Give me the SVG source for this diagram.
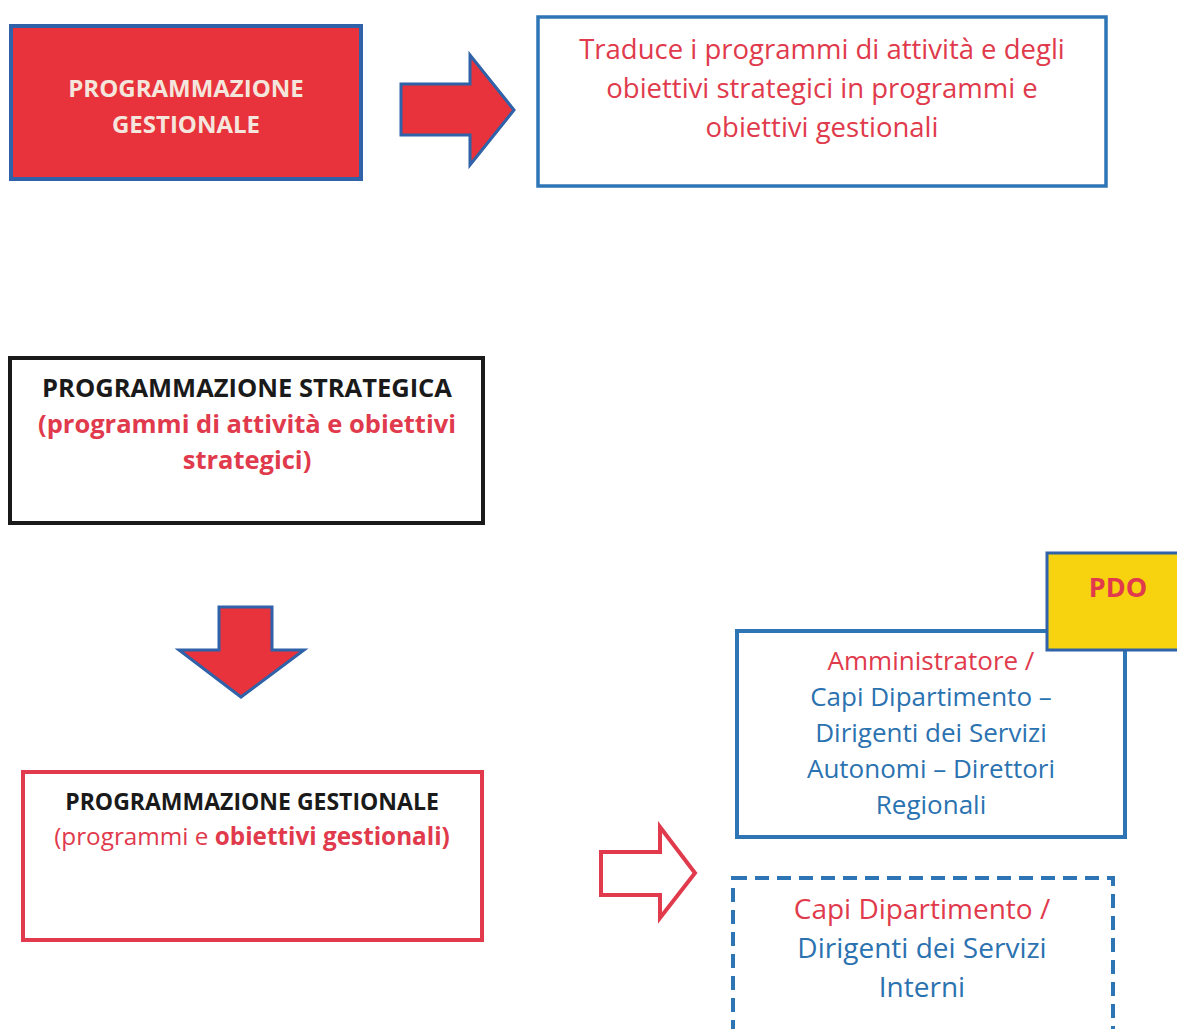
<svg xmlns="http://www.w3.org/2000/svg" width="1177" height="1029" viewBox="0 0 1177 1029">
<style>
.t{font-family:"Open Sans","Liberation Sans",sans-serif;text-anchor:middle}
.r{fill:#e03a4c}
.b{fill:#2b72b0}
.k{fill:#1a1a1a}
.bold{font-weight:bold}
.blk{fill:#e8323c;stroke:#2f62a8;stroke-width:3;stroke-linejoin:miter}
</style>
<rect width="1177" height="1029" fill="#ffffff"/>
<g id="n1">
<rect x="11" y="26" width="350" height="153" fill="#e8323c" stroke="#2f62a8" stroke-width="4"/>
<text class="t bold" x="186" y="97" font-size="24" fill="#f4e6dc">PROGRAMMAZIONE</text>
<text class="t bold" x="186" y="133" font-size="24" fill="#f4e6dc">GESTIONALE</text>
</g>
<g id="n2">
<rect x="538" y="17" width="568" height="169" fill="#ffffff" stroke="#2e75b6" stroke-width="3.5"/>
<text class="t r" x="822" y="59" font-size="27.5">Traduce i programmi di attività e degli</text>
<text class="t r" x="822" y="98" font-size="27.5">obiettivi strategici in programmi e</text>
<text class="t r" x="822" y="137" font-size="27.5">obiettivi gestionali</text>
</g>
<g id="n3">
<rect x="10" y="358" width="473" height="165" fill="#ffffff" stroke="#1a1a1a" stroke-width="4"/>
<text class="t bold k" x="247" y="397" font-size="25.5">PROGRAMMAZIONE STRATEGICA</text>
<text class="t bold r" x="247" y="433" font-size="25.5">(programmi di attività e obiettivi</text>
<text class="t bold r" x="247" y="469" font-size="25.5">strategici)</text>
</g>
<g id="n4">
<rect x="23" y="772" width="459" height="168" fill="#ffffff" stroke="#e03a4c" stroke-width="4"/>
<text class="t bold k" x="252" y="810" font-size="23">PROGRAMMAZIONE GESTIONALE</text>
<text class="t r" x="252" y="845" font-size="24.3"><tspan>(programmi e </tspan><tspan class="bold">obiettivi gestionali)</tspan></text>
</g>
<g id="n5">
<rect x="737" y="631" width="388" height="206" fill="#ffffff" stroke="#2e75b6" stroke-width="4"/>
<text class="t r" x="931" y="670" font-size="26">Amministratore /</text>
<text class="t b" x="931" y="706" font-size="26">Capi Dipartimento –</text>
<text class="t b" x="931" y="742" font-size="26">Dirigenti dei Servizi</text>
<text class="t b" x="931" y="778" font-size="26">Autonomi – Direttori</text>
<text class="t b" x="931" y="814" font-size="26">Regionali</text>
</g>
<g id="n6">
<rect x="1047" y="553" width="134" height="97" fill="#f7d30f" stroke="#2f62a8" stroke-width="3"/>
<text class="t bold r" x="1118" y="597" font-size="27">PDO</text>
</g>
<g id="n7">
<rect x="733" y="878" width="380" height="160" fill="#ffffff" stroke="#2e75b6" stroke-width="4" stroke-dasharray="14 8"/>
<text class="t r" x="922" y="919" font-size="28">Capi Dipartimento /</text>
<text class="t b" x="922" y="958" font-size="28">Dirigenti dei Servizi</text>
<text class="t b" x="922" y="997" font-size="28">Interni</text>
</g>
<g id="connectors">
<polygon class="blk" points="401,84 470,84 470,55 514,110 470,165 470,135 401,135"/>
<polygon class="blk" points="219,607 272,607 272,650 304,650 241,697 179,650 219,650"/>
<polygon points="601,852 660,852 660,827 695,873 660,918 660,895 601,895" fill="#ffffff" stroke="#e03a4c" stroke-width="4"/>
</g>
</svg>
